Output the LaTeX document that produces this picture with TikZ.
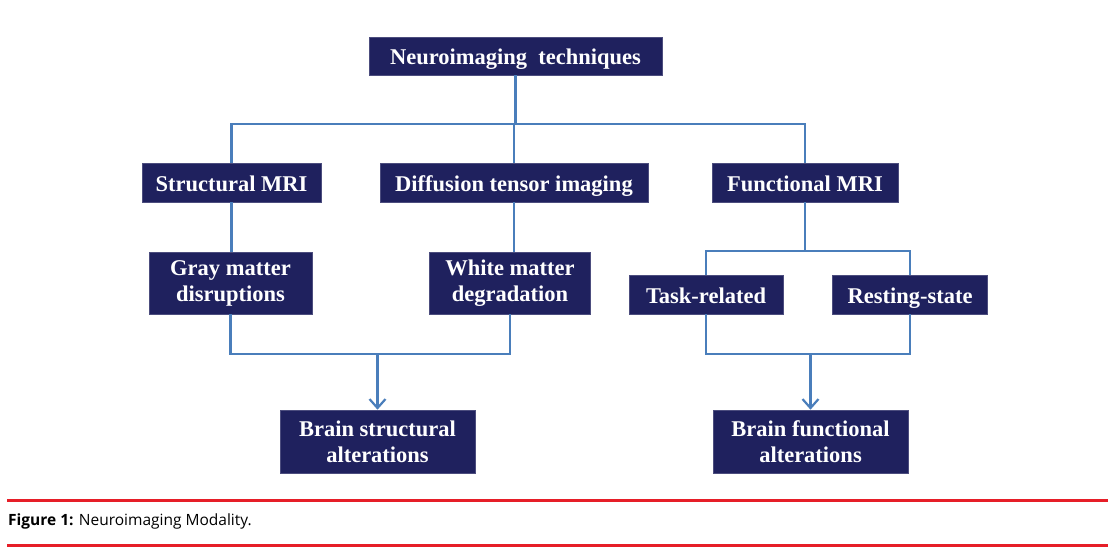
\documentclass[tikz,border=0pt]{standalone}
\usepackage{fontspec}
\setmainfont{Liberation Serif}
\newfontfamily\capfont{Open Sans}
\usetikzlibrary{arrows.meta}
\definecolor{navy}{RGB}{31,33,94}
\definecolor{linkblue}{RGB}{74,126,187}
\definecolor{capred}{RGB}{230,30,40}
\tikzset{
  box/.style={fill=navy, draw=navy!80!white, line width=0.6pt, text=white, font=\bfseries\fontsize{22.5}{26}\selectfont, align=center, inner sep=0pt, anchor=center},
  onebox/.style={box, text height=19pt, text depth=2pt},
  conn/.style={draw=linkblue, line width=2.4pt},
  arr/.style={conn, -{Straight Barb[length=9pt, width=16pt, line width=2.2pt]}},
  rule/.style={draw=capred, line width=3pt}
}
\begin{document}
\begin{tikzpicture}[x=1pt, y=-1pt]
\useasboundingbox (0,0) rectangle (1108,554);
\fill[white] (0,0) rectangle (1108,554);
% boxes
\node[onebox, minimum width=293pt, minimum height=38pt] (top) at (515.5,56) {Neuroimaging\ \ techniques};
\node[onebox, minimum width=179pt, minimum height=39pt] (smri) at (231.5,182.5) {Structural MRI};
\node[onebox, minimum width=268pt, minimum height=39pt] (dti) at (514,182.5) {Diffusion tensor imaging};
\node[onebox, minimum width=186pt, minimum height=39pt] (fmri) at (805,182.5) {Functional MRI};
\node[box, minimum width=163pt, minimum height=62pt] (gray) at (230.5,283) {Gray matter\\disruptions};
\node[box, minimum width=161pt, minimum height=62pt] (white) at (510,283) {White matter\\degradation};
\node[onebox, minimum width=154pt, minimum height=39pt] (task) at (706,294.5) {Task-related};
\node[onebox, minimum width=155pt, minimum height=39pt] (rest) at (910,294.5) {Resting-state};
\node[box, minimum width=195pt, minimum height=63pt] (bstruct) at (377.5,441.5) {Brain structural\\alterations};
\node[box, minimum width=195pt, minimum height=63pt] (bfunc) at (810.5,441.5) {Brain functional\\alterations};
% bus coordinates
\coordinate (bus) at (515.5,124);
\coordinate (fbus) at (805,251);
\coordinate (sbus) at (377.5,354);
\coordinate (fbus2) at (810.5,354);
% connectors
\draw[conn] (top.south) -- (bus);
\draw[conn] (smri.north) |- (bus) -| (fmri.north);
\draw[conn] (dti.north) -- (dti.north |- bus);
\draw[conn] (smri.south) -- (smri.south |- gray.north);
\draw[conn] (dti.south) -- (dti.south |- white.north);
\draw[conn] (fmri.south) -- (fbus);
\draw[conn] (task.north) |- (fbus) -| (rest.north);
\draw[conn] (gray.south) |- (sbus) -| (white.south);
\draw[arr] (sbus) -- (bstruct.north);
\draw[conn] (task.south) |- (fbus2) -| (rest.south);
\draw[arr] (fbus2) -- (bfunc.north);
% caption
\coordinate (r1a) at (7,500); \coordinate (r1b) at (1108,500);
\coordinate (r2a) at (7,545); \coordinate (r2b) at (1108,545);
\draw[rule] (r1a) -- (r1b);
\draw[rule] (r2a) -- (r2b);
\node[anchor=west, inner sep=0pt, font=\capfont\fontsize{15.5}{18}\selectfont] (cap) at (8,521) {\textbf{Figure 1:} Neuroimaging Modality.};
\end{tikzpicture}
\end{document}
